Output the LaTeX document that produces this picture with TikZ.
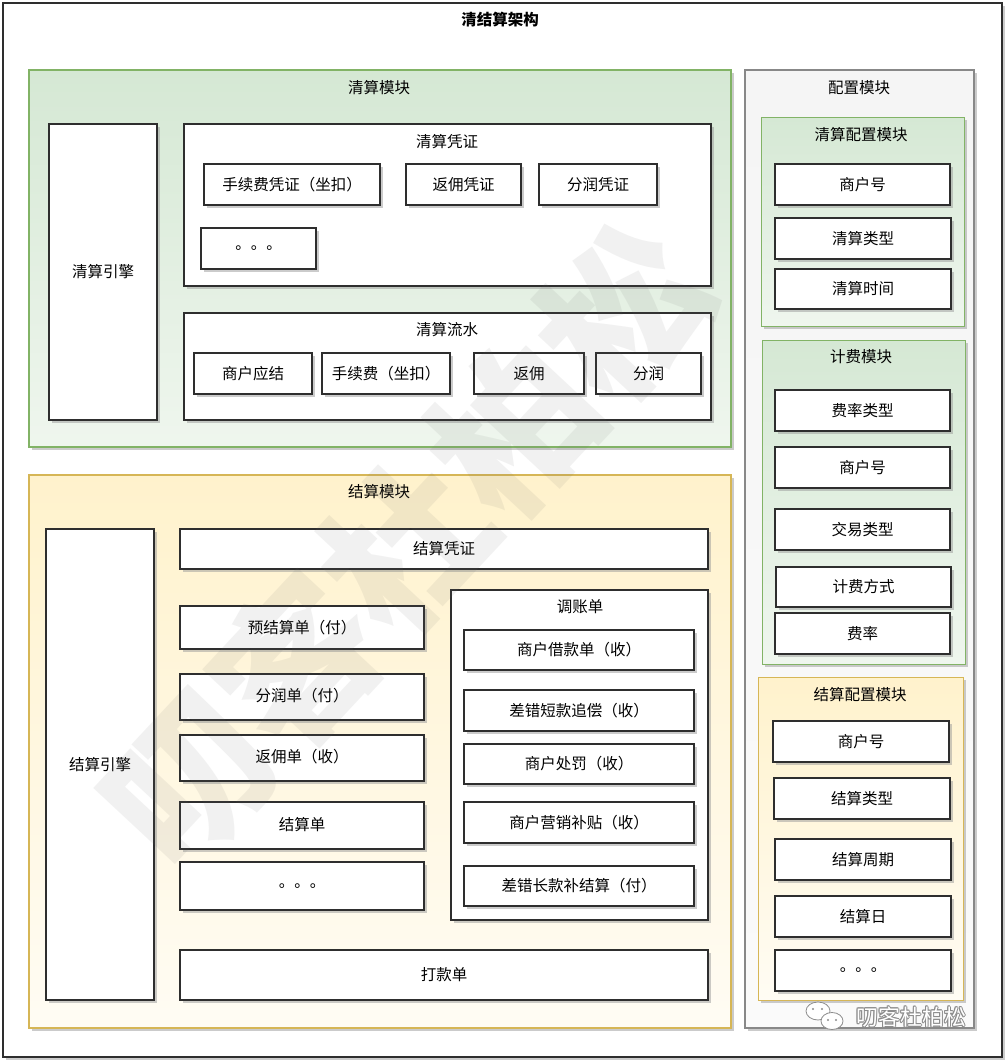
\documentclass[tikz,border=0pt]{standalone}
\usepackage{fontspec}
\setmainfont{Noto Sans CJK SC}
\usetikzlibrary{shadows}
\definecolor{gtop}{HTML}{D5E8D4}
\definecolor{gbot}{HTML}{EFF6EE}
\definecolor{gline}{HTML}{82B366}
\definecolor{ytop}{HTML}{FFF2CC}
\definecolor{ybot}{HTML}{FFFCF4}
\definecolor{yline}{HTML}{D6B656}
\definecolor{ptop}{HTML}{F5F5F5}
\definecolor{pbot}{HTML}{FAFAFA}
\definecolor{pline}{HTML}{888888}
\tikzset{
  every node/.style={font=\fontsize{15.5}{18}\selectfont, inner sep=0pt},
  shd/.style={drop shadow={shadow xshift=3pt, shadow yshift=-3pt, fill=black!40, opacity=0.5}},
  wbox/.style={shd, draw=black!82, line width=1.3pt, fill=white},
  gbox/.style={shd, draw=gline, line width=1.2pt, top color=gtop, bottom color=gbot},
  ybox/.style={shd, draw=yline, line width=1.2pt, top color=ytop, bottom color=ybot},
  pbox/.style={shd, draw=pline, line width=1.2pt, top color=ptop, bottom color=pbot},
  ttl/.style={font=\fontsize{15.5}{18}\selectfont},
}
\newcommand\bx[7][wbox]{\node[#1, minimum width={(#5-#3)*1pt}, minimum height={(#6-#4)*1pt}] (#2) at ({(#3+#5)/2},{(#4+#6)/2}) {#7};}
\begin{document}
\begin{tikzpicture}[x=1pt,y=-1pt]
\useasboundingbox (0,0) rectangle (1006,1061);
% outer frame
\bx[wbox, line width=1.5pt]{frame}{3}{3}{1002}{1057}{}
\node[font=\fontsize{15.5}{18}\selectfont\bfseries] (title) at (500,20) {清结算架构};

% ---------- 清算模块 ----------
\bx[gbox]{qsm}{29}{70}{731}{447}{}
\node[ttl] (qsmT) at (379,88) {清算模块};
\bx{qsyq}{49}{124}{157}{420}{清算引擎}
\bx{qspz}{184}{124}{711}{286}{}
\node[ttl] (qspzT) at (447,142) {清算凭证};
\bx{a1}{204}{164}{380}{205}{手续费凭证（坐扣）}
\bx{a2}{406}{164}{521}{205}{返佣凭证}
\bx{a3}{539}{164}{657}{205}{分润凭证}
\bx{a4}{201}{228}{316}{269}{。。。}
\bx{qsls}{184}{313}{711}{420}{}
\node[ttl] (qslsT) at (447,330) {清算流水};
\bx{b1}{194}{353}{312}{394}{商户应结}
\bx{b2}{322}{353}{450}{394}{手续费（坐扣）}
\bx{b3}{474}{353}{584}{394}{返佣}
\bx{b4}{596}{353}{701}{394}{分润}

% ---------- 结算模块 ----------
\bx[ybox]{jsm}{29}{475}{731}{1028}{}
\node[ttl] (jsmT) at (379,492) {结算模块};
\bx{jsyq}{46}{529}{154}{1000}{结算引擎}
\bx{c0}{180}{529}{708}{569}{结算凭证}
\bx{c1}{180}{606}{424}{649}{预结算单（付）}
\bx{c2}{180}{674}{424}{720}{\raisebox{4pt}{分润单（付）}}
\bx{c3}{180}{735}{424}{781}{\raisebox{4pt}{返佣单（收）}}
\bx{c4}{180}{802}{424}{849}{\raisebox{4pt}{结算单}}
\bx{c5}{180}{862}{424}{910}{。。。}
\bx{tzd}{451}{590}{708}{920}{}
\node[ttl] (tzdT) at (580,607) {调账单};
\bx{d1}{464}{630}{694}{670}{商户借款单（收）}
\bx{d2}{464}{690}{694}{731}{差错短款追偿（收）}
\bx{d3}{464}{744}{694}{784}{商户处罚（收）}
\bx{d4}{464}{802}{694}{843}{商户营销补贴（收）}
\bx{d5}{464}{866}{694}{906}{差错长款补结算（付）}
\bx{c6}{180}{950}{708}{1000}{打款单}

% ---------- 配置模块 ----------
\bx[pbox]{pzm}{745}{70}{974}{1028}{}
\node[ttl] (pzmT) at (859,88) {配置模块};
\bx[gbox, line width=1pt]{qspzm}{761}{117}{964}{326}{}
\node[ttl] (qspzmT) at (861,135) {清算配置模块};
\bx{e1}{775}{164}{950}{205}{商户号}
\bx{e2}{775}{218}{951}{259}{清算类型}
\bx{e3}{775}{269}{951}{309}{清算时间}
\bx[gbox, line width=1pt]{jfm}{762}{340}{965}{664}{}
\node[ttl] (jfmT) at (861,357) {计费模块};
\bx{f1}{775}{390}{950}{431}{费率类型}
\bx{f2}{775}{447}{950}{488}{商户号}
\bx{f3}{775}{509}{950}{550}{交易类型}
\bx{f4}{776}{567}{951}{607}{计费方式}
\bx{f5}{775}{613}{950}{654}{费率}
\bx[ybox, line width=1pt]{jspzm}{758}{677}{963}{1000}{}
\node[ttl] (jspzmT) at (860,695) {结算配置模块};
\bx{g1}{773}{721}{949}{762}{商户号}
\bx{g2}{774}{778}{950}{819}{结算类型}
\bx{g3}{775}{839}{951}{880}{结算周期}
\bx{g4}{775}{896}{951}{937}{结算日}
\bx{g5}{775}{950}{951}{991}{。。。}

% ---------- watermark ----------
\node[font=\fontsize{160}{160}\selectfont\bfseries, text=black!60, opacity=0.09, rotate=47] (wm) at (405,545) {叨客杜柏松};

% wechat mark
\begin{scope}[draw=black!45, fill=white, line width=0.8pt]
  \filldraw (818,1011) ellipse [x radius=12, y radius=9];
  \filldraw (832,1021) ellipse [x radius=11, y radius=8.5];
  \fill[black!45] (813,1009) circle (1.2) (822,1009) circle (1.2) (828,1020) circle (1.1) (836,1020) circle (1.1);
\end{scope}
\foreach \dx/\dy in {1/0,-1/0,0/1,0/-1,0.7/0.7,-0.7/0.7,0.7/-0.7,-0.7/-0.7}
  \node[font=\fontsize{22}{24}\selectfont, text=black!45] at (911+\dx,1017+\dy) {叨客杜柏松};
\node[font=\fontsize{22}{24}\selectfont, text=white] (wx) at (911,1017) {叨客杜柏松};
\end{tikzpicture}
\end{document}
